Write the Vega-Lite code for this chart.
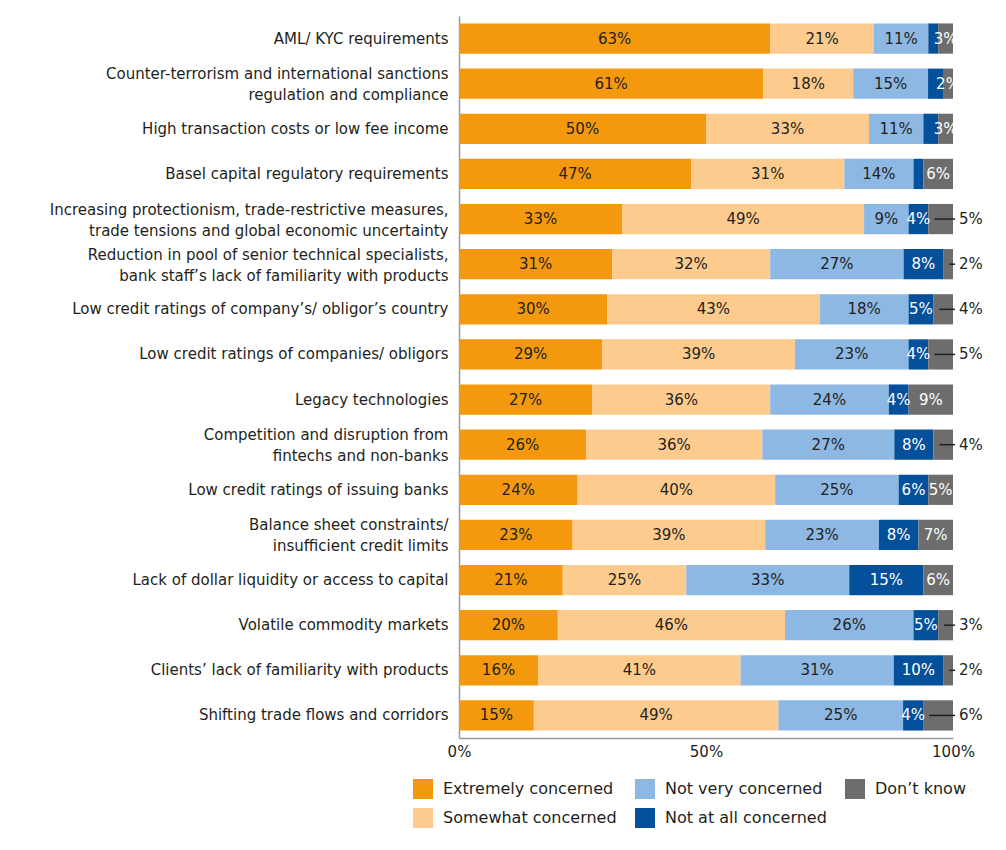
{
  "$schema": "https://vega.github.io/schema/vega-lite/v6.json",
  "width": 494,
  "height": 722,
  "autosize": {"type": "none"},
  "padding": {"left": 459, "top": 16, "right": 53, "bottom": 112},
  "background": "white",
  "config": {
    "view": {"stroke": null},
    "font": "DejaVu Sans",
    "axis": {"labelFont": "DejaVu Sans", "labelColor": "#231f20"},
    "legend": {"labelFont": "DejaVu Sans", "labelColor": "#231f20"}
  },
  "datasets": {
    "resp": [
      {"key": "ext", "response": "Extremely concerned", "rank": 1},
      {"key": "some", "response": "Somewhat concerned", "rank": 2},
      {"key": "notvery", "response": "Not very concerned", "rank": 3},
      {"key": "notall", "response": "Not at all concerned", "rank": 4},
      {"key": "dk", "response": "Don’t know", "rank": 5}
    ]
  },
  "data": {
    "values": [
      {"q": "AML/ KYC requirements", "ext": 0.63, "some": 0.21, "notvery": 0.11, "notall": 0.02, "dk": 0.03},
      {"q": "Counter-terrorism and international sanctions\nregulation and compliance", "ext": 0.61, "some": 0.18, "notvery": 0.15, "notall": 0.03, "dk": 0.02},
      {"q": "High transaction costs or low fee income", "ext": 0.50, "some": 0.33, "notvery": 0.11, "notall": 0.03, "dk": 0.03},
      {"q": "Basel capital regulatory requirements", "ext": 0.47, "some": 0.31, "notvery": 0.14, "notall": 0.02, "dk": 0.06},
      {"q": "Increasing protectionism, trade-restrictive measures,\ntrade tensions and global economic uncertainty", "ext": 0.33, "some": 0.49, "notvery": 0.09, "notall": 0.04, "dk": 0.05},
      {"q": "Reduction in pool of senior technical specialists,\nbank staff’s lack of familiarity with products", "ext": 0.31, "some": 0.32, "notvery": 0.27, "notall": 0.08, "dk": 0.02},
      {"q": "Low credit ratings of company’s/ obligor’s country", "ext": 0.30, "some": 0.43, "notvery": 0.18, "notall": 0.05, "dk": 0.04},
      {"q": "Low credit ratings of companies/ obligors", "ext": 0.29, "some": 0.39, "notvery": 0.23, "notall": 0.04, "dk": 0.05},
      {"q": "Legacy technologies", "ext": 0.27, "some": 0.36, "notvery": 0.24, "notall": 0.04, "dk": 0.09},
      {"q": "Competition and disruption from\nfintechs and non-banks", "ext": 0.26, "some": 0.36, "notvery": 0.27, "notall": 0.08, "dk": 0.04},
      {"q": "Low credit ratings of issuing banks", "ext": 0.24, "some": 0.40, "notvery": 0.25, "notall": 0.06, "dk": 0.05},
      {"q": "Balance sheet constraints/\ninsufficient credit limits", "ext": 0.23, "some": 0.39, "notvery": 0.23, "notall": 0.08, "dk": 0.07},
      {"q": "Lack of dollar liquidity or access to capital", "ext": 0.21, "some": 0.25, "notvery": 0.33, "notall": 0.15, "dk": 0.06},
      {"q": "Volatile commodity markets", "ext": 0.20, "some": 0.46, "notvery": 0.26, "notall": 0.05, "dk": 0.03},
      {"q": "Clients’ lack of familiarity with products", "ext": 0.16, "some": 0.41, "notvery": 0.31, "notall": 0.10, "dk": 0.02},
      {"q": "Shifting trade flows and corridors", "ext": 0.15, "some": 0.49, "notvery": 0.25, "notall": 0.04, "dk": 0.06}
    ]
  },
  "transform": [
    {"fold": ["ext", "some", "notvery", "notall", "dk"], "as": ["key", "pct"]},
    {"lookup": "key", "from": {"data": {"name": "resp"}, "key": "key", "fields": ["response", "rank"]}}
  ],
  "encoding": {
    "y": {
      "field": "q",
      "type": "nominal",
      "sort": null,
      "title": null,
      "scale": {"paddingInner": 0.33, "paddingOuter": 0.165},
      "axis": {
        "domain": true,
        "domainColor": "#9a9a9a",
        "domainWidth": 1.5,
        "ticks": false,
        "labelPadding": 11,
        "labelFontSize": 15,
        "labelLimit": 600,
        "labelLineHeight": 21,
        "labelOffset": {"condition": {"test": "indexof(datum.label, '\\n') >= 0", "value": -9.5}, "value": 0},
        "labelExpr": "split(datum.label, '\\n')"
      }
    }
  },
  "layer": [
    {
      "mark": {"type": "bar"},
      "encoding": {
        "x": {
          "field": "pct",
          "type": "quantitative",
          "stack": "normalize",
          "title": null,
          "scale": {"domain": [0, 1]},
          "axis": {
            "values": [0, 0.5, 1],
            "format": ".0%",
            "grid": false,
            "ticks": false,
            "domainColor": "#9a9a9a",
            "domainWidth": 1.5,
            "labelFontSize": 15,
            "labelPadding": 6,
            "labelFlush": false
          }
        },
        "color": {
          "field": "response",
          "type": "nominal",
          "scale": {
            "domain": ["Extremely concerned", "Somewhat concerned", "Not very concerned", "Not at all concerned", "Don’t know"],
            "range": ["#f4990e", "#fdcb8e", "#8db8e3", "#05509a", "#6d6d6d"]
          },
          "legend": {
            "title": null,
            "orient": "none",
            "legendX": -46,
            "legendY": 763,
            "columns": 3,
            "columnPadding": 18,
            "rowPadding": 9,
            "symbolType": "square",
            "symbolSize": 400,
            "symbolStrokeWidth": 0,
            "symbolOpacity": 1,
            "labelFontSize": 16,
            "labelOffset": 10,
            "labelLimit": 400
          }
        },
        "order": {"field": "rank", "type": "quantitative"}
      }
    },
    {
      "mark": {"type": "text", "fontSize": 15, "baseline": "middle", "align": "center"},
      "encoding": {
        "x": {"field": "pct", "type": "quantitative", "stack": "normalize", "bandPosition": 0.5, "scale": {"domain": [0, 1]}},
        "detail": {"field": "response", "type": "nominal"},
        "order": {"field": "rank", "type": "quantitative"},
        "text": {"field": "pct", "type": "quantitative", "format": ".0%"},
        "color": {"condition": {"test": "datum.rank >= 4", "value": "white"}, "value": "#231f20"},
        "opacity": {
          "condition": {
            "test": "(datum.rank == 4 && datum.pct < 0.035) || (datum.rank == 5 && indexof(['Increasing protectionism, trade-restrictive measures,\\ntrade tensions and global economic uncertainty', 'Reduction in pool of senior technical specialists,\\nbank staff’s lack of familiarity with products', 'Low credit ratings of company’s/ obligor’s country', 'Low credit ratings of companies/ obligors', 'Competition and disruption from\\nfintechs and non-banks', 'Volatile commodity markets', 'Clients’ lack of familiarity with products', 'Shifting trade flows and corridors'], datum.q) >= 0)",
            "value": 0
          },
          "value": 1
        }
      }
    },
    {
      "transform": [
        {"stack": "pct", "groupby": ["q"], "sort": [{"field": "rank"}], "offset": "normalize", "as": ["x0", "x1"]},
        {"filter": "datum.rank == 5 && indexof(['Increasing protectionism, trade-restrictive measures,\\ntrade tensions and global economic uncertainty', 'Reduction in pool of senior technical specialists,\\nbank staff’s lack of familiarity with products', 'Low credit ratings of company’s/ obligor’s country', 'Low credit ratings of companies/ obligors', 'Competition and disruption from\\nfintechs and non-banks', 'Volatile commodity markets', 'Clients’ lack of familiarity with products', 'Shifting trade flows and corridors'], datum.q) >= 0"}
      ],
      "mark": {"type": "rule", "color": "#231f20", "strokeWidth": 1.5, "xOffset": 6, "x2Offset": 2},
      "encoding": {
        "x": {"field": "x0", "type": "quantitative", "scale": {"domain": [0, 1]}},
        "x2": {"datum": 1}
      }
    },
    {
      "transform": [
        {"filter": "datum.rank == 5 && indexof(['Increasing protectionism, trade-restrictive measures,\\ntrade tensions and global economic uncertainty', 'Reduction in pool of senior technical specialists,\\nbank staff’s lack of familiarity with products', 'Low credit ratings of company’s/ obligor’s country', 'Low credit ratings of companies/ obligors', 'Competition and disruption from\\nfintechs and non-banks', 'Volatile commodity markets', 'Clients’ lack of familiarity with products', 'Shifting trade flows and corridors'], datum.q) >= 0"}
      ],
      "mark": {"type": "text", "fontSize": 15, "baseline": "middle", "align": "left", "dx": 6, "color": "#231f20"},
      "encoding": {
        "x": {"datum": 1, "type": "quantitative", "scale": {"domain": [0, 1]}},
        "text": {"field": "pct", "type": "quantitative", "format": ".0%"}
      }
    }
  ]
}
